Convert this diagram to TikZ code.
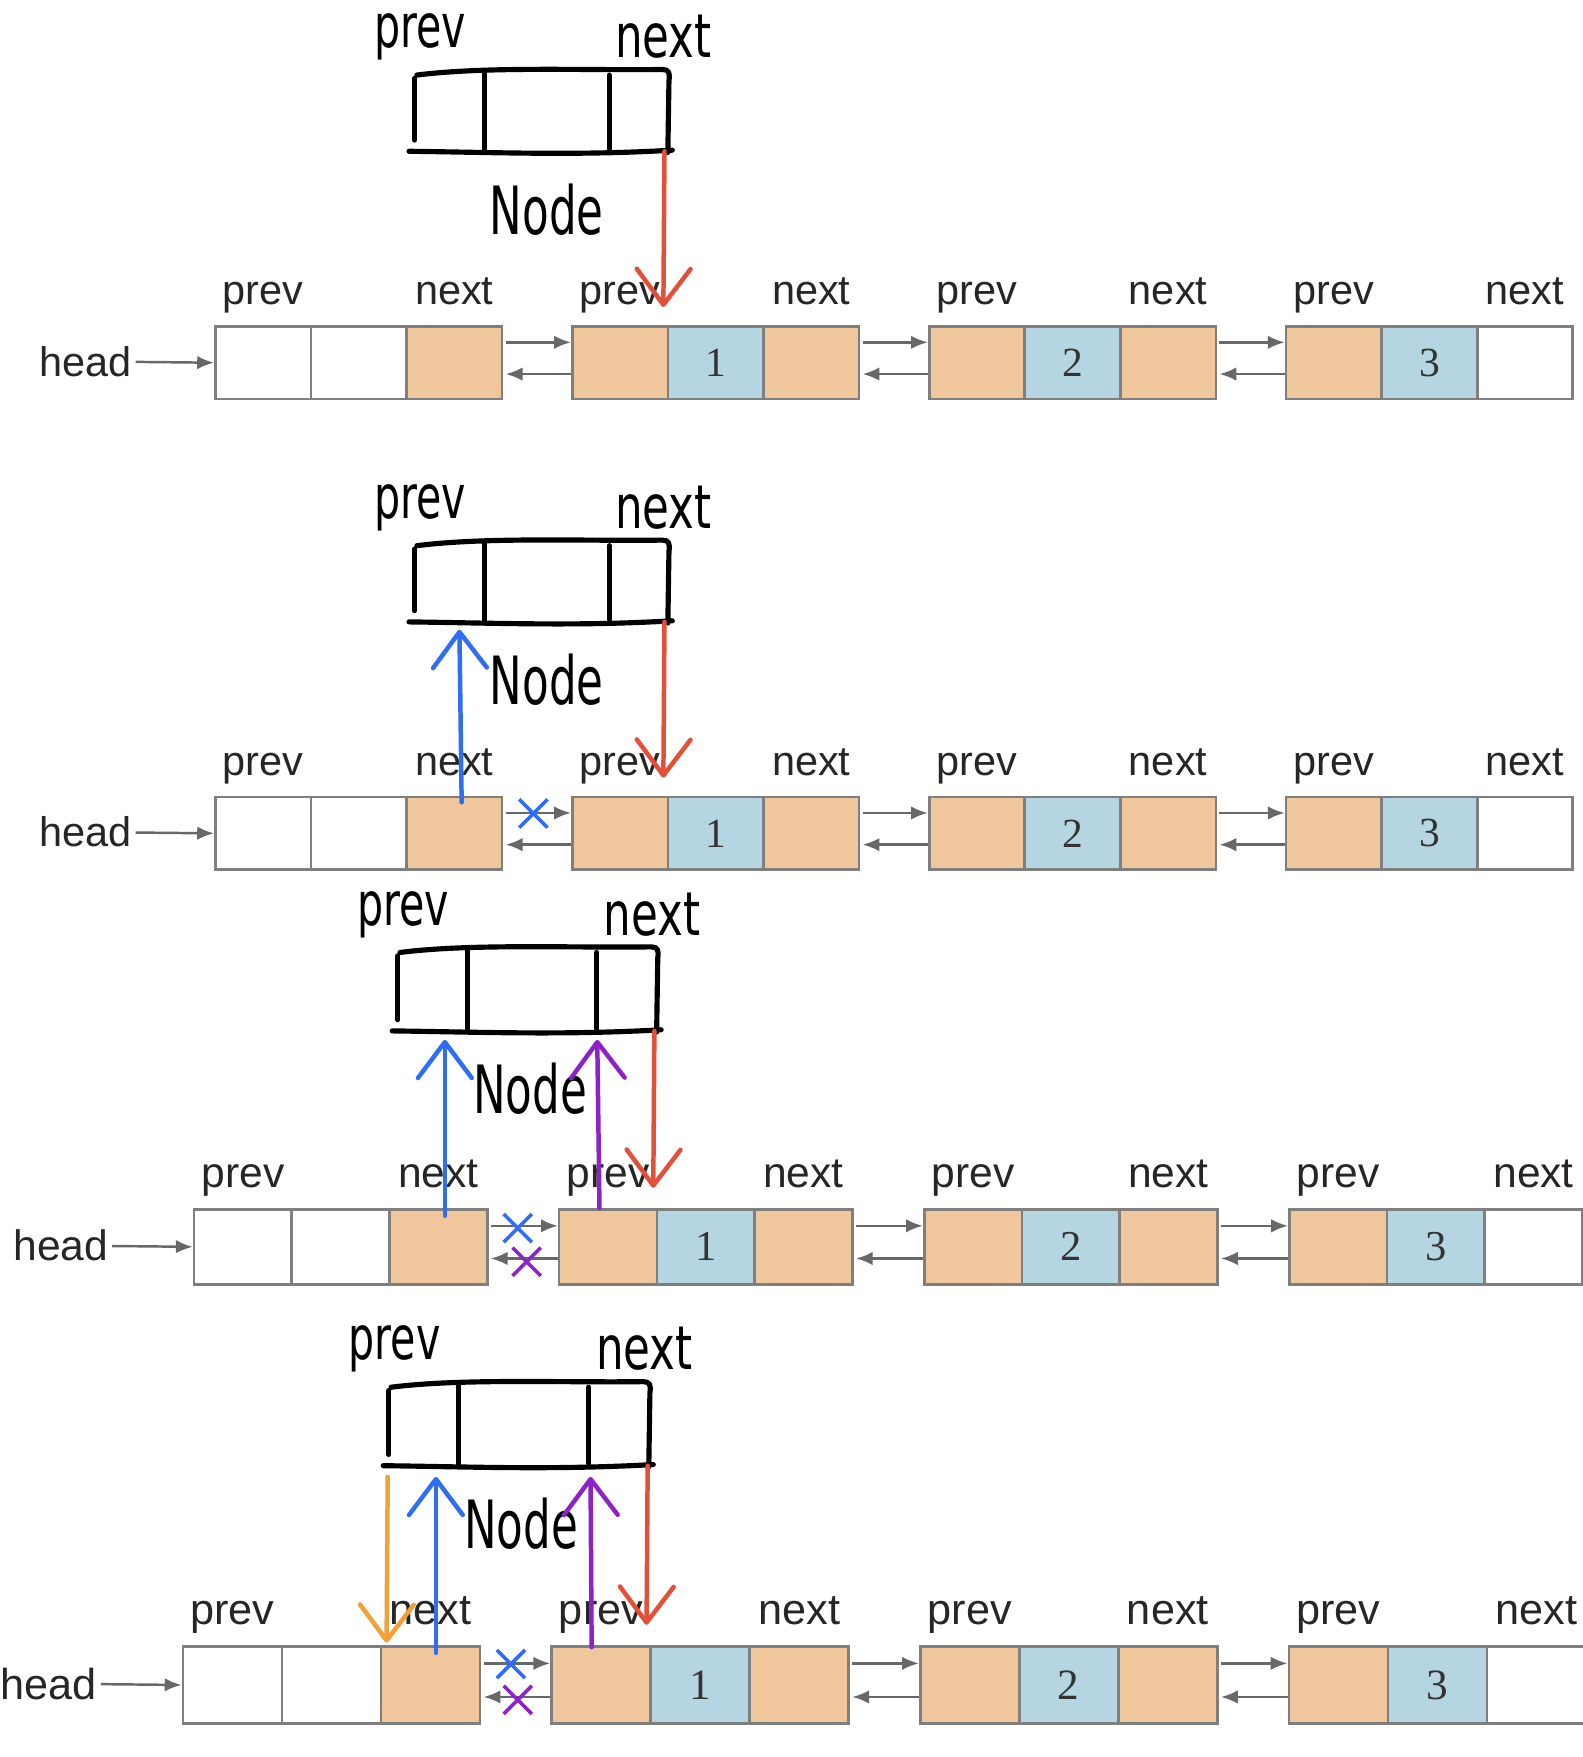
\documentclass[tikz,border=0pt]{standalone}
\usepackage{fontspec}
\setmainfont{Liberation Sans}
\newfontfamily\numfont{Liberation Serif}
\newfontfamily\handfont{DejaVu Sans}
\usetikzlibrary{arrows.meta,calc,shapes.misc}
\newdimen\pu \pu=0.5pt
\definecolor{cellorange}{HTML}{F0C69C}
\definecolor{cellblue}{HTML}{B5D5E2}
\definecolor{cellborder}{HTML}{7F7F7F}
\definecolor{linkgray}{HTML}{686868}
\definecolor{penred}{HTML}{E2503A}
\definecolor{penblue}{HTML}{2F6DF2}
\definecolor{penpurple}{HTML}{8E22C6}
\definecolor{penorange}{HTML}{F0A13A}
\tikzset{
 cell/.style={draw=cellborder, line width=1.2pt, rectangle, inner sep=0pt, anchor=north west},
 fieldlabel/.style={font=\fontsize{\rowfs}{\rowfs}\selectfont, text=black!85, inner sep=0pt},
 link/.style={draw=linkgray, line width=1.1pt, -{Latex[length=7.5pt,width=6pt]}},
 hand/.style={draw=black, line width=2.3pt, line cap=round, line join=round},
 handtext/.style={font=\handfont\fontsize{27}{27}\selectfont, inner sep=0pt},
 pen/.style={line width=2pt, line cap=round, -{Straight Barb[length=16pt,width=24pt,round]}},
 xmark/.style={cross out, line width=1.6pt, minimum size=11pt, inner sep=0pt},
}
% row of the linked list: #1 id, #2 top y, #3 height, #4 x of first cell, #5 cell width, #6 pitch, #7 head label right, #8 font size
\newcommand\llrow[8]{%
 \def\rowfs{#8}%
 \foreach \k/\fa/\fb/\fc/\num in {0/white/white/cellorange/{},1/cellorange/cellblue/cellorange/1,2/cellorange/cellblue/cellorange/2,3/cellorange/cellblue/white/3}{
  \node[cell, fill=\fa, minimum width=#5\pu, minimum height=#3\pu] (#1-\k-1) at ({#4+\k*#6},{#2}) {};
  \node[cell, fill=\fb, minimum width=#5\pu, minimum height=#3\pu, text=black!80] (#1-\k-2) at ({#4+\k*#6+#5},{#2}) {\numfont\fontsize{#8}{#8}\selectfont\num};
  \node[cell, fill=\fc, minimum width=#5\pu, minimum height=#3\pu] (#1-\k-3) at ({#4+\k*#6+2*#5},{#2}) {};
  \node[fieldlabel, anchor=base] (#1-\k-p) at ($(#1-\k-1.north)+(0,-18)$) {prev};
  \node[fieldlabel, anchor=base] (#1-\k-n) at ($(#1-\k-3.north)+(0,-18)$) {next};
 }
 \node[fieldlabel, inner sep=3\pu, anchor=east] (#1-head) at ({#7},{#2+#3/2}) {head};
 \draw[link] (#1-head) -- (#1-0-1.west);
 \foreach \k/\kk in {0/1,1/2,2/3}{
  \draw[link] ($(#1-\k-3.north east)!0.23!(#1-\k-3.south east)+(2,0)$) -- ($(#1-\kk-1.north west)!0.23!(#1-\kk-1.south west)$);
  \draw[link] ($(#1-\kk-1.north west)!0.65!(#1-\kk-1.south west)$) -- ($(#1-\k-3.north east)!0.65!(#1-\k-3.south east)+(2,0)$);
 }
}
% hand drawn node: #1 id, #2 left x, #3 top y, #4 bottom y, #5 width
\newcommand\hwbox[5]{%
 \draw[hand] ({#2+7},{#3+5}) .. controls ({#2+70},{#3-3}) and ({#2+160},{#3+1}) .. ({#2+#5-6},{#3}) .. controls ({#2+#5},{#3}) and ({#2+#5+1},{#3+3}) .. ({#2+#5},{#3+10}) -- ({#2+#5-1},{#4+1});
 \draw[hand] ({#2},{#4}) .. controls ({#2+80},{#4+1}) and ({#2+150},{#4+4}) .. ({#2+#5+3},{#4-1});
 \draw[hand] ({#2+5},{#3+8}) -- ({#2+5},{#4-10});
 \draw[hand] ({#2+67},{#3+3}) -- ({#2+67},{#4});
 \draw[hand] ({#2+0.77*#5},{#3+5}) -- ({#2+0.77*#5},{#4-2});
 \node[handtext] (#1-hp) at ({#2+10},{#3-29}) {\scalebox{0.68}[1]{prev}};
 \node[handtext] (#1-hn) at ({#2+#5-5},{#3-29}) {\scalebox{0.72}[1]{next}};
 \node[handtext] (#1-hnode) at ({#2+123},{#4+52}) {\scalebox{0.72}[1.1]{Node}};
}
\begin{document}
\begin{tikzpicture}[x=0.5pt,y=-0.5pt]
\fill[white] (0,0) rectangle (1412,1568);
\useasboundingbox (0,0) rectangle (1412,1568);

% ---------- panel 1
\hwbox{h1}{365}{62}{135}{232}
\llrow{p1}{290}{65}{191}{85.3}{318.5}{121}{18.5}
\coordinate (h1-rs) at (593,135);
\coordinate (h1-re) at (592,274);
\draw[pen, penred] (h1-rs) -- (h1-re);

% ---------- panel 2
\hwbox{h2}{365}{482}{555}{232}
\llrow{p2}{710}{65}{191}{85.3}{318.5}{121}{18.5}
\coordinate (h2-rs) at (593,555);
\coordinate (h2-re) at (592,694);
\coordinate (h2-bs) at (412,716);
\coordinate (h2-be) at (410,562);
\draw[pen, penred] (h2-rs) -- (h2-re);
\draw[pen, penblue] (h2-bs) -- (h2-be);
\node[xmark, draw=penblue] (p2-xb) at (476,726) {};

% ---------- panel 3
\hwbox{h3}{350}{845}{920}{237}
\llrow{p3}{1078}{67}{172}{87.2}{325.8}{100}{19}
\coordinate (h3-rs) at (584,920);
\coordinate (h3-re) at (583,1060);
\coordinate (h3-bs) at (397,1085);
\coordinate (h3-be) at (397,928);
\coordinate (h3-ps) at (535,1078);
\coordinate (h3-pe) at (533,928);
\draw[pen, penred] (h3-rs) -- (h3-re);
\draw[pen, penblue] (h3-bs) -- (h3-be);
\draw[pen, penpurple] (h3-ps) -- (h3-pe);
\node[xmark, draw=penblue] (p3-xb) at (462,1096) {};
\node[xmark, draw=penpurple] (p3-xp) at (470,1126) {};

% ---------- panel 4
\hwbox{h4}{342}{1233}{1308}{238}
\llrow{p4}{1468}{69}{162}{88.4}{329}{90}{19.3}
\coordinate (h4-os) at (346,1318);
\coordinate (h4-oe) at (345,1466);
\coordinate (h4-bs) at (389,1475);
\coordinate (h4-be) at (389,1318);
\coordinate (h4-ps) at (528,1470);
\coordinate (h4-pe) at (527,1318);
\coordinate (h4-rs) at (578,1308);
\coordinate (h4-re) at (577,1450);
\draw[pen, penorange] (h4-os) -- (h4-oe);
\draw[pen, penblue] (h4-bs) -- (h4-be);
\draw[pen, penpurple] (h4-ps) -- (h4-pe);
\draw[pen, penred] (h4-rs) -- (h4-re);
\node[xmark, draw=penblue] (p4-xb) at (456,1485) {};
\node[xmark, draw=penpurple] (p4-xp) at (462,1517) {};
\end{tikzpicture}
\end{document}
